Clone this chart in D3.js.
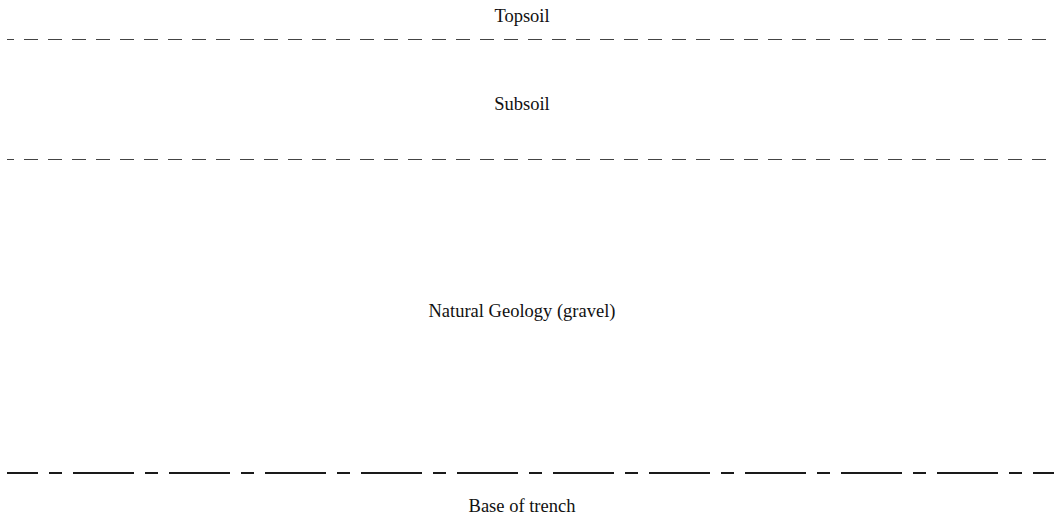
<!DOCTYPE html>
<html>
<head>
<meta charset="utf-8">
<script src="https://cdn.jsdelivr.net/npm/d3@7"></script>
<style>
  html, body { margin: 0; padding: 0; background: #fff; }
  text { font-family: "Liberation Serif", "Times New Roman", serif; font-size: 18.5px; fill: #111; }
</style>
</head>
<body>
<div id="content"><svg width="1054" height="520"></svg></div>
<script>
// trench section, depths in drawing units from top of section
var layerNames = ["Topsoil", "Subsoil", "Natural Geology (gravel)", "Base of trench"];
var labelDepths = [15.5, 103.5, 310.5, 505.5];
var boundaryNames = ["topsoil/subsoil", "subsoil/natural", "base of trench"];
var boundaryDepths = [39.5, 159.5, 473];
var boundaryKinds = ["layer", "layer", "base"];

var svg = d3.select("#content").select("svg");
var width = +svg.attr("width"),
    height = +svg.attr("height");

var x = d3.scaleLinear().domain([0, 1]).range([7, width]);
var y = d3.scaleLinear().domain([0, 520]).range([0, height]);

var styles = {
    layer: {stroke: "#444", width: 1, dash: "14,10", offset: 7},
    base: {stroke: "#1a1a1a", width: 2, dash: "61,11,13,11", offset: 30}
};

var lines = boundaryDepths.map(function (d, i) {
    return {name: boundaryNames[i], depth: d, kind: boundaryKinds[i]};
});

svg.selectAll("line.boundary")
    .data(lines)
    .enter()
    .append("line")
    .attr("class", "boundary")
    .attr("x1", x(0))
    .attr("x2", x(1))
    .attr("y1", function (d) {return y(d.depth);})
    .attr("y2", function (d) {return y(d.depth);})
    .style("stroke", function (d) {return styles[d.kind].stroke;})
    .style("stroke-width", function (d) {return styles[d.kind].width;})
    .style("stroke-dasharray", function (d) {return styles[d.kind].dash;})
    .style("stroke-dashoffset", function (d) {return styles[d.kind].offset;});

svg.selectAll("text.label")
    .data(layerNames)
    .enter()
    .append("text")
    .attr("class", "label")
    .attr("x", 522)
    .attr("y", function (d, i) {return y(labelDepths[i]);})
    .attr("text-anchor", "middle")
    .attr("dominant-baseline", "central")
    .text(function (d) {return d;});
</script>
</body>
</html>
